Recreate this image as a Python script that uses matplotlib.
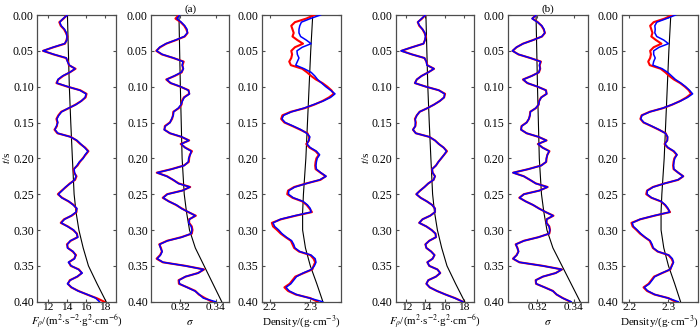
import numpy as np
import matplotlib
matplotlib.use("Agg")
import matplotlib.pyplot as plt

plt.rcParams['font.family'] = ['Liberation Serif', 'DejaVu Serif']
plt.rcParams['mathtext.fontset'] = 'stix'

# time samples (s)
t = np.linspace(0.0, 0.4, 81)
t_init = [0.0, 0.05, 0.1, 0.15, 0.2, 0.25, 0.275, 0.3, 0.325, 0.35, 0.375, 0.4]

# true model (red)
fp_true = [14.0, 13.65, 13.2, 13.35, 13.7, 13.9, 14.05, 13.95, 13.8, 12.6, 11.5,
           12.6, 13.9, 14.1, 14.2, 14.9, 14.3, 13.6, 13.1, 12.9, 14.05,
           15.4, 16.05, 15.95, 15.5, 14.9, 14.2, 13.4, 13.1, 12.9, 13.0,
           12.95, 12.7, 13.0, 14.4, 15.0, 15.4, 15.9, 16.25, 15.95, 15.65,
           15.35, 15.1, 14.7, 14.75, 15.0, 14.85, 14.3, 13.9, 13.45, 13.05,
           13.5, 14.15, 14.7, 15.0, 15.0, 14.5, 13.7, 13.35, 14.1, 14.65,
           15.05, 15.1, 14.4, 14.0, 14.1, 14.6, 14.95, 14.75, 14.2, 14.4,
           15.25, 15.55, 15.1, 14.3, 14.1, 14.45, 15.2, 16.1, 17.1, 17.9]
sig_true = [0.3191, 0.3172, 0.3202, 0.3222, 0.3234, 0.3241, 0.3225, 0.3175, 0.3120, 0.3085, 0.3063,
            0.3095, 0.3160, 0.3219, 0.3212, 0.3215, 0.3208, 0.3168, 0.3120, 0.3144, 0.3200,
            0.3247, 0.3250, 0.3220, 0.3209, 0.3207, 0.3191, 0.3160, 0.3158, 0.3153, 0.3140,
            0.3112, 0.3110, 0.3140, 0.3205, 0.3250, 0.3202, 0.3228, 0.3266, 0.3254, 0.3250,
            0.3248, 0.3220, 0.3150, 0.3066, 0.3125, 0.3158, 0.3191, 0.3256, 0.3210, 0.3125,
            0.3100, 0.3135, 0.3175, 0.3209, 0.3245, 0.3288, 0.3250, 0.3250, 0.3265, 0.3269,
            0.3265, 0.3205, 0.3125, 0.3080, 0.3090, 0.3095, 0.3085, 0.3065, 0.3100, 0.3230,
            0.3335, 0.3300, 0.3230, 0.3190, 0.3192, 0.3240, 0.3285, 0.3305, 0.3340, 0.3380]
den_true = [2.310, 2.290, 2.262, 2.253, 2.256, 2.259, 2.256, 2.268, 2.282, 2.262, 2.253,
            2.255, 2.253, 2.248, 2.252, 2.280, 2.292, 2.302, 2.314, 2.330, 2.342,
            2.352, 2.358, 2.346, 2.330, 2.310, 2.286, 2.252, 2.231, 2.228, 2.236,
            2.256, 2.275, 2.293, 2.297, 2.297, 2.290, 2.298, 2.313, 2.321, 2.315,
            2.313, 2.312, 2.313, 2.325, 2.338, 2.325, 2.290, 2.260, 2.245, 2.243,
            2.256, 2.280, 2.291, 2.298, 2.304, 2.264, 2.228, 2.205, 2.208, 2.218,
            2.227, 2.239, 2.252, 2.256, 2.260, 2.272, 2.300, 2.308, 2.312, 2.308,
            2.305, 2.284, 2.263, 2.256, 2.249, 2.236, 2.245, 2.264, 2.300, 2.318]

# inversion results (blue)
fp_inv_a = [14.05, 13.6, 13.25, 13.4, 13.75, 13.95, 14.0, 14.0, 13.75, 12.55, 11.5,
            12.65, 13.95, 14.05, 14.25, 14.85, 14.3, 13.55, 13.05, 12.95, 14.1,
            15.35, 16.0, 15.9, 15.5, 14.95, 14.15, 13.45, 13.15, 12.95, 13.05,
            12.9, 12.75, 13.05, 14.35, 15.05, 15.45, 15.85, 16.2, 15.9, 15.7,
            15.3, 15.05, 14.75, 14.8, 14.95, 14.8, 14.35, 13.85, 13.5, 13.1,
            13.45, 14.2, 14.65, 15.05, 14.95, 14.45, 13.75, 13.4, 14.05, 14.7,
            15.0, 15.15, 14.35, 14.05, 14.05, 14.65, 14.9, 14.8, 14.15, 14.45,
            15.2, 15.6, 15.05, 14.35, 14.05, 14.5, 15.15, 16.15, 17.0, 17.4]
sig_inv_a = [0.3196, 0.3180, 0.3205, 0.3225, 0.3238, 0.3240, 0.3222, 0.3172, 0.3118, 0.3082, 0.3065,
             0.3098, 0.3162, 0.3215, 0.3210, 0.3218, 0.3205, 0.3165, 0.3122, 0.3146, 0.3202,
             0.3245, 0.3252, 0.3222, 0.3212, 0.3204, 0.3188, 0.3162, 0.3160, 0.3150, 0.3142,
             0.3115, 0.3108, 0.3142, 0.3208, 0.3248, 0.3205, 0.3226, 0.3262, 0.3256, 0.3247,
             0.3245, 0.3222, 0.3152, 0.3068, 0.3122, 0.3160, 0.3188, 0.3254, 0.3212, 0.3127,
             0.3102, 0.3133, 0.3178, 0.3206, 0.3247, 0.3285, 0.3252, 0.3247, 0.3262, 0.3266,
             0.3262, 0.3208, 0.3127, 0.3082, 0.3087, 0.3097, 0.3087, 0.3068, 0.3102, 0.3228,
             0.3332, 0.3302, 0.3228, 0.3193, 0.3195, 0.3238, 0.3282, 0.3308, 0.3330, 0.3400]
den_inv_a = [2.325, 2.300, 2.278, 2.274, 2.272, 2.272, 2.276, 2.290, 2.302, 2.280, 2.267,
             2.268, 2.272, 2.268, 2.264, 2.285, 2.302, 2.311, 2.318, 2.328, 2.338,
             2.350, 2.361, 2.350, 2.332, 2.308, 2.284, 2.254, 2.234, 2.230, 2.238,
             2.258, 2.277, 2.291, 2.299, 2.296, 2.292, 2.300, 2.315, 2.323, 2.317,
             2.315, 2.314, 2.315, 2.326, 2.339, 2.323, 2.291, 2.262, 2.247, 2.246,
             2.258, 2.282, 2.293, 2.300, 2.302, 2.262, 2.226, 2.208, 2.212, 2.222,
             2.230, 2.241, 2.254, 2.259, 2.262, 2.274, 2.302, 2.312, 2.314, 2.310,
             2.303, 2.282, 2.266, 2.259, 2.252, 2.240, 2.248, 2.266, 2.298, 2.330]
fp_inv_b = [14.0, 13.6, 13.2, 13.4, 13.7, 13.95, 14.0, 13.95, 13.8, 12.6, 11.45,
            12.6, 13.9, 14.1, 14.15, 14.9, 14.3, 13.6, 13.1, 12.9, 14.05,
            15.4, 16.0, 15.95, 15.5, 14.9, 14.2, 13.4, 13.1, 12.95, 12.95,
            12.95, 12.7, 13.0, 14.4, 15.0, 15.4, 15.9, 16.2, 15.95, 15.65,
            15.35, 15.1, 14.7, 14.75, 15.0, 14.85, 14.3, 13.9, 13.45, 13.05,
            13.5, 14.15, 14.7, 15.0, 15.0, 14.5, 13.7, 13.35, 14.1, 14.65,
            15.05, 15.1, 14.4, 14.0, 14.1, 14.6, 14.95, 14.75, 14.2, 14.4,
            15.25, 15.55, 15.1, 14.3, 14.1, 14.45, 15.2, 16.1, 17.05, 17.9]
sig_inv_b = [0.3193, 0.3170, 0.3200, 0.3224, 0.3236, 0.3240, 0.3224, 0.3176, 0.3121, 0.3084, 0.3062,
             0.3096, 0.3161, 0.3217, 0.3211, 0.3214, 0.3207, 0.3169, 0.3121, 0.3145, 0.3201,
             0.3246, 0.3251, 0.3221, 0.3210, 0.3206, 0.3190, 0.3161, 0.3159, 0.3152, 0.3141,
             0.3113, 0.3109, 0.3141, 0.3206, 0.3249, 0.3203, 0.3227, 0.3264, 0.3255, 0.3249,
             0.3247, 0.3221, 0.3151, 0.3065, 0.3124, 0.3159, 0.3190, 0.3255, 0.3211, 0.3126,
             0.3101, 0.3134, 0.3176, 0.3208, 0.3246, 0.3286, 0.3251, 0.3249, 0.3264, 0.3268,
             0.3264, 0.3206, 0.3126, 0.3081, 0.3089, 0.3096, 0.3086, 0.3066, 0.3101, 0.3229,
             0.3334, 0.3301, 0.3229, 0.3191, 0.3193, 0.3239, 0.3284, 0.3306, 0.3338, 0.3385]
den_inv_b = [2.318, 2.295, 2.270, 2.265, 2.266, 2.265, 2.270, 2.288, 2.300, 2.276, 2.262,
             2.262, 2.266, 2.262, 2.260, 2.284, 2.298, 2.308, 2.318, 2.332, 2.344,
             2.354, 2.362, 2.349, 2.331, 2.309, 2.285, 2.253, 2.232, 2.229, 2.237,
             2.257, 2.276, 2.292, 2.298, 2.297, 2.291, 2.299, 2.314, 2.322, 2.316,
             2.314, 2.313, 2.314, 2.325, 2.338, 2.324, 2.290, 2.261, 2.246, 2.245,
             2.257, 2.281, 2.292, 2.299, 2.303, 2.263, 2.227, 2.207, 2.210, 2.220,
             2.229, 2.240, 2.253, 2.258, 2.261, 2.273, 2.301, 2.310, 2.313, 2.309,
             2.304, 2.283, 2.265, 2.258, 2.251, 2.238, 2.247, 2.265, 2.299, 2.325]

# initial models (black)
fp_init = [14.05, 14.15, 14.25, 14.4, 14.57, 14.75, 14.95, 15.25, 15.7, 16.25, 17.15, 18.1]
sig_init = [0.3192, 0.3196, 0.3200, 0.3205, 0.3210, 0.3222, 0.3235, 0.3252, 0.3285, 0.3335, 0.3385, 0.3435]
den_init = [2.306, 2.301, 2.297, 2.293, 2.289, 2.283, 2.281, 2.281, 2.288, 2.300, 2.316, 2.331]

y_ticks = [0.00, 0.05, 0.10, 0.15, 0.20, 0.25, 0.30, 0.35, 0.40]
fp_ticks = [12, 14, 16, 18]
sig_ticks = [0.32, 0.34]
den_ticks = [2.2, 2.3]
fp_label = r'$F_{\rho}$/(m$^{2}$$\cdot$s$^{-2}$$\cdot$g$^{2}$$\cdot$cm$^{-6}$)'
sig_label = r'$\sigma$'
den_label = r'Density/(g$\cdot$cm$^{-3}$)'

W, H = 700, 330
fig = plt.figure(figsize=(7, 3.3), dpi=100)

panels = [
    (37.3, 78.4, fp_true, fp_inv_a, fp_init, (10.9, 19.1), fp_ticks, '{:g}', fp_label, True, None),
    (151.3, 78.0, sig_true, sig_inv_a, sig_init, (0.3035, 0.3478), sig_ticks, '{:.2f}', sig_label, False, '(a)'),
    (261.7, 79.0, den_true, den_inv_a, den_init, (2.18, 2.375), den_ticks, '{:.1f}', den_label, False, None),
    (395.7, 78.6, fp_true, fp_inv_b, fp_init, (10.9, 19.1), fp_ticks, '{:g}', fp_label, True, None),
    (507.5, 80.5, sig_true, sig_inv_b, sig_init, (0.3035, 0.3478), sig_ticks, '{:.2f}', sig_label, False, '(b)'),
    (621.7, 76.0, den_true, den_inv_b, den_init, (2.18, 2.375), den_ticks, '{:.1f}', den_label, False, None),
]

bottom_px, top_px = 301.7, 15.0
spine_col = '#4d4d4d'
fs_tick = 8.5
fs_lab = 8.0
for (lpx, wpx, tru, inv, ini, xl, xt, fmt, xlab, ylab, title) in panels:
    ax = fig.add_axes([lpx / W, (H - bottom_px) / H, wpx / W, (bottom_px - top_px) / H])
    ax.plot(ini, t_init, color='black', lw=0.8, zorder=2)
    ax.plot(tru, t, color='#ff0000', lw=1.5, zorder=3)
    ax.plot(inv, t, color='#0000ff', lw=1.1, zorder=4)
    ax.set_xlim(*xl)
    ax.set_ylim(0.4, 0.0)
    ax.set_yticks(y_ticks)
    ax.set_yticklabels(['{:.2f}'.format(v) for v in y_ticks])
    ax.set_xticks(xt)
    ax.set_xticklabels([fmt.format(v) for v in xt])
    ax.tick_params(direction='in', top=True, right=True, length=2.5, width=0.8,
                   color=spine_col, labelsize=fs_tick, pad=2.5)
    ax.tick_params(axis='x', pad=1.0, labelsize=8.2)
    for s in ax.spines.values():
        s.set_color(spine_col)
        s.set_linewidth(0.9)
    cx = (lpx + wpx / 2) / W
    fig.text(cx, 5.0 / H, xlab, fontsize=(7.8 if ylab else fs_lab),
             ha='center', va='baseline')
    if ylab:
        ax.set_ylabel(r'$t$/s', fontsize=fs_lab, labelpad=0.5)
    if title:
        ax.set_title(title, fontsize=fs_lab, pad=2)

fig.savefig('out.png', dpi=100)
